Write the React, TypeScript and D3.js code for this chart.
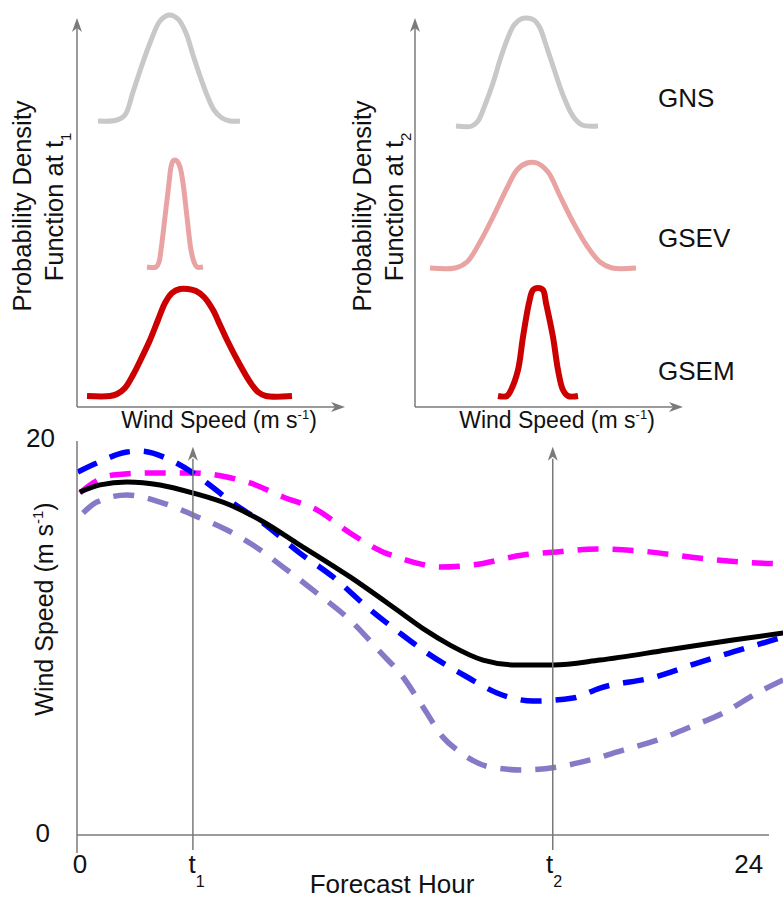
import React from "react";
import * as d3 from "d3";

// ---------- Data ----------
// Bottom panel: wind speed (m/s) vs forecast hour
const blackSolid: [number, number][] = [
  [0.1, 17.41], [0.8, 17.77], [1.73, 17.92], [2.88, 17.77], [4.02, 17.36], [5.31, 16.75],
  [6.35, 15.99], [7.73, 14.72], [9.47, 13.1], [11.2, 11.32], [12.07, 10.41], [12.94, 9.64],
  [14.08, 8.88], [15.26, 8.63], [16.51, 8.63], [18.14, 8.88], [20.46, 9.39], [22.75, 9.9], [24.49, 10.25],
];
const blueDashed: [number, number][] = [
  [0.03, 18.43], [0.69, 18.88], [1.73, 19.44], [2.19, 19.49], [3.23, 19.04], [4.02, 18.38],
  [4.51, 17.87], [5.41, 16.85], [6.45, 15.84], [7.73, 14.31], [8.88, 13.1], [10.06, 11.57],
  [11.2, 10.25], [12.14, 9.24], [13.53, 8.02], [14.57, 7.21], [15.82, 6.8], [17.2, 6.95],
  [18.14, 7.46], [20.05, 8.02], [21.51, 8.73], [22.75, 9.29], [24.49, 10.05],
];
const magentaDashed: [number, number][] = [
  [0.1, 17.36], [0.55, 17.87], [1.25, 18.27], [2.64, 18.38], [4.02, 18.38], [5.2, 18.17],
  [6.0, 17.87], [7.15, 17.16], [8.32, 16.5], [9.47, 15.33], [10.61, 14.37], [11.2, 14.06],
  [11.9, 13.76], [12.59, 13.6], [13.74, 13.71], [15.47, 14.21], [16.65, 14.37], [18.04, 14.52],
  [19.53, 14.42], [21.26, 14.11], [23.0, 13.86], [24.49, 13.76],
];
const purpleDashed: [number, number][] = [
  [0.21, 16.35], [0.69, 16.9], [1.73, 17.26], [2.88, 16.9], [4.27, 16.09], [5.2, 15.48],
  [6.1, 14.72], [7.15, 13.6], [8.32, 12.28], [9.47, 10.91], [10.61, 9.14], [11.2, 8.22],
  [12.0, 6.5], [12.69, 4.97], [13.28, 4.21], [14.33, 3.45], [15.47, 3.3], [16.65, 3.45],
  [17.79, 3.81], [18.94, 4.31], [20.12, 4.82], [21.26, 5.48], [22.41, 6.19], [23.59, 7.21], [24.49, 7.87],
];
const hourT1 = 4.02;
const hourT2 = 16.5;
const windTicks = [0, 20];
const hourTicks: { h: number; label: string; sub?: string }[] = [
  { h: 0.1, label: "0" },
  { h: 4.15, label: "t", sub: "1" },
  { h: 16.55, label: "t", sub: "2" },
  { h: 23.3, label: "24" },
];

// Top panels: schematic PDFs (wind speed units, stacked density units)
const pdfT1Gns: [number, number][] = [
  [2.1, 28.6], [4.0, 28.7], [4.8, 29.2], [5.6, 31.5], [6.5, 34.2], [7.3, 36.4], [8.3, 38.6],
  [9.2, 39.2], [10.1, 38.8], [10.9, 37.4], [11.6, 35.2], [12.3, 33.1], [13.0, 31.2], [13.7, 29.7],
  [14.5, 28.9], [15.3, 28.6], [16.3, 28.6],
];
const pdfT1Gsev: [number, number][] = [
  [7.0, 14.0], [7.9, 14.0], [8.2, 14.5], [8.4, 15.7], [8.8, 19.0], [9.2, 22.4], [9.4, 24.0],
  [9.6, 24.6], [9.8, 24.7], [10.0, 24.6], [10.3, 24.0], [10.6, 22.4], [11.0, 19.0], [11.4, 15.7],
  [11.7, 14.5], [12.0, 14.0], [12.6, 14.0],
];
const pdfT1Gsem: [number, number][] = [
  [1.0, 1.1], [3.3, 1.1], [4.0, 1.3], [4.8, 1.9], [5.6, 3.2], [6.5, 5.0], [7.3, 6.7], [8.1, 8.7],
  [8.8, 10.4], [9.5, 11.4], [10.3, 11.8], [11.1, 11.8], [11.9, 11.6], [12.7, 11.0], [13.6, 9.7],
  [14.3, 8.2], [15.0, 6.7], [16.3, 4.2], [17.3, 2.5], [18.1, 1.5], [18.9, 1.1], [21.5, 1.1],
];
const pdfT2Gns: [number, number][] = [
  [4.1, 28.1], [5.7, 28.1], [6.3, 28.6], [7.0, 30.2], [7.8, 32.4], [8.5, 34.7], [9.2, 36.7],
  [9.9, 38.2], [10.6, 38.8], [11.2, 38.9], [11.9, 38.7], [12.5, 37.9], [13.0, 36.5], [13.5, 35.0],
  [14.0, 33.5], [14.5, 32.0], [15.0, 30.7], [15.5, 29.6], [16.0, 28.8], [16.7, 28.2], [18.3, 28.1],
];
const pdfT2Gsev: [number, number][] = [
  [1.5, 13.9], [4.0, 13.9], [5.2, 14.5], [6.5, 16.5], [7.8, 19.0], [9.2, 21.9], [10.2, 23.7],
  [11.2, 24.4], [12.2, 24.4], [13.3, 23.5], [14.5, 21.1], [15.8, 18.5], [17.2, 16.1], [18.5, 14.5],
  [19.7, 13.9], [22.1, 13.9],
];
const pdfT2Gsem: [number, number][] = [
  [8.3, 1.1], [9.2, 1.1], [9.6, 1.7], [10.3, 3.7], [10.8, 7.0], [11.4, 10.4], [11.8, 11.7],
  [12.3, 11.9], [12.8, 11.7], [13.1, 10.4], [13.8, 7.0], [14.3, 3.7], [14.8, 1.7], [15.3, 1.1], [16.3, 1.1],
];
const modelLabels = ["GNS", "GSEV", "GSEM"];
const modelLabelLevels = [30.0, 16.0, 2.7];

// ---------- Styles ----------
const FONT = "'Liberation Sans', Arial, Helvetica, sans-serif";
const AXIS = "#7a7a7a";
const C_GNS = "#c8c8c8";
const C_GSEV = "#e9a3a3";
const C_GSEM = "#cc0000";

function Arrow({ x, y, dir }: { x: number; y: number; dir: "up" | "right" }) {
  const d =
    dir === "up"
      ? `M${x},${y} L${x - 5},${y + 14} L${x},${y + 10} L${x + 5},${y + 14} Z`
      : `M${x},${y} L${x - 14},${y - 5} L${x - 10},${y} L${x - 14},${y + 5} Z`;
  return <path d={d} fill={AXIS} />;
}

export default function App() {
  const W = 783, H = 899;
  const xHour = d3.scaleLinear().domain([0, 24]).range([77, 769]);
  const yWind = d3.scaleLinear().domain([0, 20]).range([835, 441]);
  const xPdfL = d3.scaleLinear().domain([0, 27]).range([77, 347]);
  const xPdfR = d3.scaleLinear().domain([0, 27]).range([415, 685]);
  const yPdf = d3.scaleLinear().domain([0, 39]).range([407, 17]);

  const lineBottom = d3
    .line<[number, number]>()
    .x((d) => xHour(d[0]))
    .y((d) => yWind(d[1]))
    .curve(d3.curveMonotoneX);
  const pdfCurve = d3.curveCatmullRom.alpha(0.5);
  const lineL = d3.line<[number, number]>().x((d) => xPdfL(d[0])).y((d) => yPdf(d[1])).curve(pdfCurve);
  const lineR = d3.line<[number, number]>().x((d) => xPdfR(d[0])).y((d) => yPdf(d[1])).curve(pdfCurve);

  const pdfPanel = (
    xs: d3.ScaleLinear<number, number>,
    gen: d3.Line<[number, number]>,
    curves: [number, number][][],
    sub: string,
    labelX1: number,
    labelX2: number
  ) => {
    const x0 = xs(0);
    const xEnd = xs.range()[1] - 2;
    const yBase = yPdf(0);
    const colors = [C_GNS, C_GSEV, C_GSEM];
    const widths = [5, 5, 6];
    return (
      <g>
        {curves.map((c, i) => (
          <path key={i} d={gen(c) || ""} fill="none" stroke={colors[i]} strokeWidth={widths[i]} strokeLinejoin="round" />
        ))}
        <line x1={x0} y1={yBase} x2={x0} y2={yPdf(38.5)} stroke={AXIS} strokeWidth={1.5} />
        <Arrow x={x0} y={yPdf(38.9)} dir="up" />
        <line x1={x0} y1={yBase} x2={xEnd - 4} y2={yBase} stroke={AXIS} strokeWidth={1.5} />
        <Arrow x={xEnd} y={yBase} dir="right" />
        <text x={(x0 + xEnd) / 2 + 8} y={428} textAnchor="middle" fontSize={23} fontFamily={FONT} fill="#111">
          Wind Speed (m s<tspan dy={-9} fontSize={13}>-1</tspan><tspan dy={9}>)</tspan>
        </text>
        <text transform={`translate(${labelX1},206) rotate(-90)`} textAnchor="middle" fontSize={25.5} fontFamily={FONT} fill="#111">
          Probability Density
        </text>
        <text transform={`translate(${labelX2},207) rotate(-90)`} textAnchor="middle" fontSize={25.5} fontFamily={FONT} fill="#111">
          Function at t<tspan dy={8} fontSize={15}>{sub}</tspan>
        </text>
      </g>
    );
  };

  return (
    <svg
      width={W}
      height={H}
      viewBox={`0 0 ${W} ${H}`}
      style={{ position: "absolute", left: 0, top: 0, background: "#fff" }}
    >
      <rect x={0} y={0} width={W} height={H} fill="#fff" />
      {pdfPanel(xPdfL, lineL, [pdfT1Gns, pdfT1Gsev, pdfT1Gsem], "1", 31, 63)}
      {pdfPanel(xPdfR, lineR, [pdfT2Gns, pdfT2Gsev, pdfT2Gsem], "2", 371, 403)}

      {modelLabels.map((m, i) => (
        <text key={m} x={658} y={yPdf(modelLabelLevels[i])} fontSize={26} fontFamily={FONT} fill="#111">
          {m}
        </text>
      ))}

      {/* Bottom panel */}
      <g>
        <path d={lineBottom(purpleDashed) || ""} fill="none" stroke="#8878c8" strokeWidth={5.5} strokeDasharray="21,14" />
        <path d={lineBottom(magentaDashed) || ""} fill="none" stroke="#ff00ff" strokeWidth={5.5} strokeDasharray="21,14" />
        <path d={lineBottom(blueDashed) || ""} fill="none" stroke="#0000ff" strokeWidth={5.5} strokeDasharray="21,14" />
        <path d={lineBottom(blackSolid) || ""} fill="none" stroke="#000" strokeWidth={5} />

        <line x1={xHour(0)} y1={yWind(20)} x2={xHour(0)} y2={yWind(0) + 18} stroke={AXIS} strokeWidth={1.5} />
        <line x1={xHour(0)} y1={yWind(0)} x2={xHour(24)} y2={yWind(0)} stroke={AXIS} strokeWidth={1.5} />
        {[hourT1, hourT2].map((h, i) => (
          <g key={i}>
            <line x1={xHour(h)} y1={yWind(0) + 15} x2={xHour(h)} y2={yWind(19.5) + 8} stroke={AXIS} strokeWidth={1.5} />
            <Arrow x={xHour(h)} y={yWind(19.5) - 4} dir="up" />
          </g>
        ))}

        {windTicks.map((t) => (
          <text key={t} x={t === 0 ? 50 : 55} y={yWind(t) + (t === 0 ? 7 : 6)} textAnchor="end" fontSize={26} fontFamily={FONT} fill="#111">
            {t}
          </text>
        ))}
        {hourTicks.map((t) => (
          <text key={t.h} x={xHour(t.h)} y={873} textAnchor="middle" fontSize={26} fontFamily={FONT} fill="#111">
            {t.label}
            {t.sub && (
              <tspan dy={14} fontSize={16}>
                {t.sub}
              </tspan>
            )}
          </text>
        ))}
        <text x={392} y={893} textAnchor="middle" fontSize={26} fontFamily={FONT} fill="#111">
          Forecast Hour
        </text>
        <text transform="translate(53,609) rotate(-90)" textAnchor="middle" fontSize={25} fontFamily={FONT} fill="#111">
          Wind Speed (m s<tspan dy={-10} fontSize={15}>-1</tspan><tspan dy={10}>)</tspan>
        </text>
      </g>
    </svg>
  );
}
